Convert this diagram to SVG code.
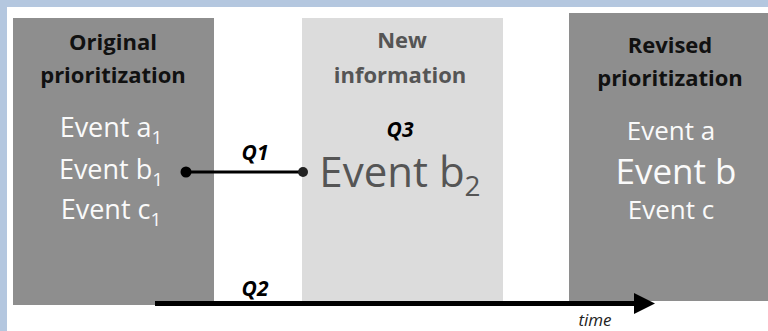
<svg xmlns="http://www.w3.org/2000/svg" width="768" height="331" viewBox="0 0 768 331">
<defs>
<style>
.dark{fill:#8e8e8e}
.light{fill:#dcdcdc}
.t{font-family:"Open Sans",Lato,sans-serif;text-anchor:middle}
.title{font-weight:bold;font-size:22px;fill:#111}
.ntitle{font-weight:bold;font-size:22px;fill:#555}
.ev{font-size:27px;fill:#fafafa}
.q{font-family:"Open Sans",Lato,sans-serif;font-weight:bold;font-style:italic;font-size:21px;fill:#000;text-anchor:middle}
</style>
<marker id="ah" viewBox="0 0 10 10" refX="0" refY="5" markerWidth="4.2" markerHeight="4.2" markerUnits="strokeWidth" orient="auto">
<path d="M0,0 L10,5 L0,10 z" fill="#000"/>
</marker>
</defs>
<rect x="0" y="0" width="768" height="331" fill="#ffffff"/>
<rect x="0" y="0" width="768" height="7" fill="#b4c7df"/>
<rect x="0" y="0" width="7" height="331" fill="#b4c7df"/>

<g id="original">
<rect class="dark" x="13" y="18" width="201" height="287"/>
<text class="t title" x="113" y="50">Original</text>
<text class="t title" x="113" y="83">prioritization</text>
<text class="t ev" x="111" y="137">Event a<tspan font-size="19" dy="7">1</tspan></text>
<text class="t ev" x="111" y="179">Event b<tspan font-size="19" dy="7">1</tspan></text>
<text class="t ev" x="111" y="219">Event c<tspan font-size="19" dy="7">1</tspan></text>
</g>

<g id="newinfo">
<rect class="light" x="302" y="18" width="201" height="284"/>
<text class="t ntitle" x="402" y="48">New</text>
<text class="t ntitle" x="400" y="83">information</text>
<text class="q" x="400" y="137">Q3</text>
<text class="t" x="400" y="187" font-size="42" fill="#555">Event b<tspan font-size="28" dy="9">2</tspan></text>
</g>

<g id="revised">
<rect class="dark" x="569" y="13" width="199" height="288"/>
<text class="t title" x="670" y="53">Revised</text>
<text class="t title" x="670" y="86">prioritization</text>
<text class="t" x="671" y="140" font-size="26" fill="#fafafa">Event a</text>
<text class="t" x="676" y="184" font-size="35" fill="#fafafa">Event b</text>
<text class="t" x="671" y="219" font-size="26" fill="#fafafa">Event c</text>
</g>

<g id="connectors">
<line x1="186" y1="172" x2="303" y2="172" stroke="#000" stroke-width="3"/>
<circle cx="186" cy="172" r="5.5" fill="#000"/>
<circle cx="303" cy="172" r="5" fill="#222"/>
<text class="q" x="255" y="160">Q1</text>
<line x1="155" y1="303.5" x2="634" y2="303.5" stroke="#000" stroke-width="5" marker-end="url(#ah)"/>
<text class="q" x="255" y="296">Q2</text>
<text x="595" y="326" font-family="'Open Sans',Lato,sans-serif" font-style="italic" font-size="17" fill="#222" text-anchor="middle">time</text>
</g>
</svg>
